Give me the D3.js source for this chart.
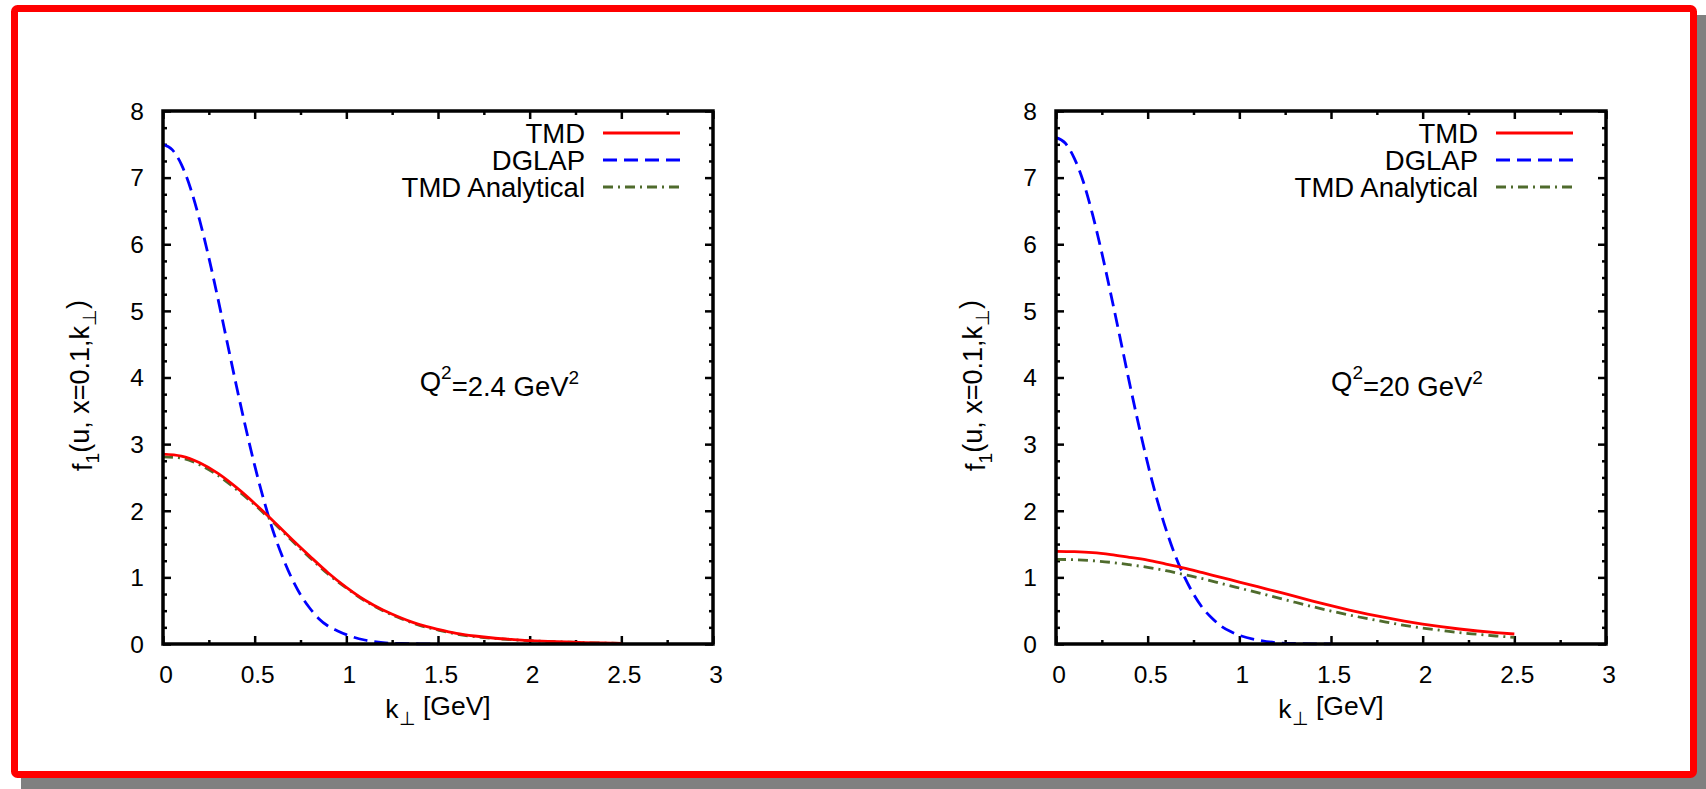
<!DOCTYPE html>
<html>
<head>
<meta charset="utf-8">
<script src="https://cdn.jsdelivr.net/npm/d3@7/dist/d3.min.js"></script>
<style>
  html, body { margin: 0; padding: 0; background: #ffffff; }
  svg { display: block; }
  text { font-family: "Liberation Sans", Arial, Helvetica, sans-serif; fill: #000; }
</style>
</head>
<body>
<svg id="fig" width="1706" height="789"></svg>
<script>
// transverse momentum grid (GeV) for the TMD curves
const kTMD = [0, 0.1, 0.2, 0.3, 0.4, 0.5, 0.6, 0.7, 0.8, 0.9, 1.0, 1.1, 1.2,
              1.3, 1.4, 1.5, 1.6, 1.7, 1.8, 1.9, 2.0, 2.1, 2.2, 2.3, 2.4, 2.5];
// finer grid for the steep DGLAP curves
const kDGLAP = [0, 0.05, 0.1, 0.15, 0.2, 0.25, 0.3, 0.35, 0.4, 0.45, 0.5, 0.55,
                0.6, 0.65, 0.7, 0.75, 0.8, 0.85, 0.9, 0.95, 1.0, 1.1, 1.2, 1.3, 1.4, 1.5];

// Q^2 = 2.4 GeV^2
const tmdLow = [2.85, 2.82, 2.72, 2.56, 2.35, 2.11, 1.85, 1.58, 1.32, 1.07, 0.85, 0.66, 0.51,
                0.39, 0.29, 0.22, 0.16, 0.12, 0.09, 0.07, 0.05, 0.04, 0.03, 0.02, 0.015, 0.01];
const dglapLow = [7.50, 7.42, 7.20, 6.84, 6.36, 5.80, 5.18, 4.53, 3.88, 3.26, 2.68, 2.16, 1.70,
                  1.32, 1.00, 0.74, 0.54, 0.38, 0.27, 0.20, 0.14, 0.06, 0.02, 0.008, 0.003, 0.001];
const analyticLow = [2.81, 2.79, 2.69, 2.53, 2.32, 2.09, 1.83, 1.56, 1.30, 1.05, 0.84, 0.65, 0.50,
                     0.38, 0.28, 0.21, 0.15, 0.11, 0.085, 0.065, 0.05, 0.038, 0.028, 0.02, 0.014, 0.01];

// Q^2 = 20 GeV^2
const tmdHigh = [1.39, 1.385, 1.37, 1.34, 1.30, 1.26, 1.20, 1.14, 1.07, 1.00, 0.93, 0.86, 0.79,
                 0.72, 0.645, 0.575, 0.51, 0.45, 0.395, 0.345, 0.30, 0.26, 0.225, 0.195, 0.17, 0.15];
const dglapHigh = [7.60, 7.52, 7.29, 6.93, 6.44, 5.87, 5.24, 4.59, 3.93, 3.30, 2.71, 2.18, 1.72,
                   1.33, 1.01, 0.75, 0.54, 0.39, 0.27, 0.19, 0.13, 0.06, 0.02, 0.008, 0.003, 0.001];
const analyticHigh = [1.27, 1.265, 1.25, 1.225, 1.19, 1.15, 1.10, 1.04, 0.98, 0.91, 0.84, 0.77, 0.70,
                      0.63, 0.56, 0.495, 0.435, 0.38, 0.33, 0.28, 0.24, 0.205, 0.17, 0.145, 0.12, 0.10];

const seriesNames = ["TMD", "DGLAP", "TMD Analytical"];
const xMajorTicks = [0, 0.5, 1, 1.5, 2, 2.5, 3];
const xMinorTicks = [0.25, 0.75, 1.25, 1.75, 2.25, 2.75];
const yMajorTicks = [0, 1, 2, 3, 4, 5, 6, 7, 8];
const yMinorTicks = d3.range(0, 8, 1).flatMap(v => [v + 0.25, v + 0.5, v + 0.75]);
const q2Labels = ["2.4", "20"];

const panels = [
  { q2: q2Labels[0], tmd: tmdLow, dglap: dglapLow, analytic: analyticLow, left: 163, right: 713, noteAt: [1.4, 3.95] },
  { q2: q2Labels[1], tmd: tmdHigh, dglap: dglapHigh, analytic: analyticHigh, left: 1056, right: 1606, noteAt: [1.5, 3.95] }
];

const styles = [
  { color: "#ff0000", dash: null },
  { color: "#0000ff", dash: "14,7" },
  { color: "#4f6b2c", dash: "10,5,2,5" }
];

const svg = d3.select("#fig");

// page frame: grey drop shadow and red border
svg.append("rect").attr("x", 21).attr("y", 15).attr("width", 1706).attr("height", 789)
  .attr("rx", 4).attr("fill", "#808080");
svg.append("rect").attr("x", 14.5).attr("y", 8.5).attr("width", 1679).attr("height", 766)
  .attr("rx", 3).attr("fill", "#ffffff").attr("stroke", "#ff0000").attr("stroke-width", 7);

const TOP = 111, BOTTOM = 644;
const tickFont = 24.5, labelFont = 27.5, subFont = 19;

panels.forEach(p => {
  const x = d3.scaleLinear().domain([0, 3]).range([p.left, p.right]);
  const y = d3.scaleLinear().domain([0, 8]).range([BOTTOM, TOP]);
  const g = svg.append("g");

  // inward ticks on all four sides
  const addAxis = (axis, tr) => {
    const a = g.append("g").attr("transform", tr).call(axis);
    a.select(".domain").remove();
    a.selectAll(".tick line").attr("stroke", "#000").attr("stroke-width", 2.5);
    a.selectAll(".tick text").remove();
    return a;
  };
  addAxis(d3.axisBottom(x).tickValues(xMajorTicks).tickSize(-8), `translate(0,${BOTTOM})`);
  addAxis(d3.axisBottom(x).tickValues(xMinorTicks).tickSize(-4), `translate(0,${BOTTOM})`);
  addAxis(d3.axisTop(x).tickValues(xMajorTicks).tickSize(-8), `translate(0,${TOP})`);
  addAxis(d3.axisTop(x).tickValues(xMinorTicks).tickSize(-4), `translate(0,${TOP})`);
  addAxis(d3.axisLeft(y).tickValues(yMajorTicks).tickSize(-8), `translate(${p.left},0)`);
  addAxis(d3.axisLeft(y).tickValues(yMinorTicks).tickSize(-4), `translate(${p.left},0)`);
  addAxis(d3.axisRight(y).tickValues(yMajorTicks).tickSize(-8), `translate(${p.right},0)`);
  addAxis(d3.axisRight(y).tickValues(yMinorTicks).tickSize(-4), `translate(${p.right},0)`);

  // tick labels
  g.selectAll(".xlab").data(xMajorTicks).join("text")
    .attr("x", d => x(d) + 3).attr("y", BOTTOM + 39)
    .attr("text-anchor", "middle").attr("font-size", tickFont)
    .text(d => String(d));
  g.selectAll(".ylab").data(yMajorTicks).join("text")
    .attr("x", p.left - 19).attr("y", d => y(d))
    .attr("dy", "0.36em")
    .attr("text-anchor", "end").attr("font-size", tickFont)
    .text(d => String(d));

  // curves
  const line = d3.line().x(d => x(d[0])).y(d => y(d[1])).curve(d3.curveMonotoneX);
  const curves = [
    d3.zip(kTMD, p.tmd),
    d3.zip(kDGLAP, p.dglap),
    d3.zip(kTMD, p.analytic)
  ];
  [2, 1, 0].forEach(i => {
    g.append("path").attr("d", line(curves[i]))
      .attr("fill", "none").attr("stroke", styles[i].color)
      .attr("stroke-width", 2.8)
      .attr("stroke-dasharray", styles[i].dash);
  });

  // frame
  g.append("rect").attr("x", p.left).attr("y", TOP)
    .attr("width", p.right - p.left).attr("height", BOTTOM - TOP)
    .attr("fill", "none").attr("stroke", "#000").attr("stroke-width", 3.5);

  // legend
  seriesNames.forEach((name, i) => {
    const ly = 133 + i * 27;
    g.append("text").attr("x", p.right - 128).attr("y", ly).attr("dy", "0.36em")
      .attr("text-anchor", "end").attr("font-size", labelFont).text(name);
    g.append("line").attr("x1", p.right - 110).attr("x2", p.right - 33)
      .attr("y1", ly).attr("y2", ly)
      .attr("stroke", styles[i].color).attr("stroke-width", 2.8)
      .attr("stroke-dasharray", styles[i].dash);
  });

  // Q^2 note
  const note = g.append("text")
    .attr("x", x(p.noteAt[0])).attr("y", y(p.noteAt[1])).attr("dy", "0.36em")
    .attr("font-size", labelFont);
  note.append("tspan").text("Q");
  note.append("tspan").attr("font-size", subFont).attr("dy", "-0.6em").text("2");
  note.append("tspan").attr("dy", "0.6em").attr("font-size", labelFont).text("=" + p.q2 + " GeV");
  note.append("tspan").attr("font-size", subFont).attr("dy", "-0.6em").text("2");

  // x axis title
  const xt = g.append("text")
    .attr("x", (p.left + p.right) / 2).attr("y", 718)
    .attr("text-anchor", "middle").attr("font-size", 26.5);
  xt.append("tspan").text("k");
  xt.append("tspan").attr("font-size", subFont).attr("dy", "0.35em").text("\u22A5");
  xt.append("tspan").attr("dy", "-0.35em").attr("font-size", 26.5).text(" [GeV]");

  // y axis title
  const yt = g.append("text")
    .attr("transform", `translate(${p.left - 71},${(TOP + BOTTOM) / 2 + 8}) rotate(-90)`)
    .attr("text-anchor", "middle").attr("font-size", 27);
  yt.append("tspan").text("f");
  yt.append("tspan").attr("font-size", subFont).attr("dy", "0.35em").text("1");
  yt.append("tspan").attr("dy", "-0.35em").attr("font-size", 27).text("(u, x=0.1,k");
  yt.append("tspan").attr("font-size", subFont).attr("dy", "0.35em").text("\u22A5");
  yt.append("tspan").attr("dy", "-0.35em").attr("font-size", 27).text(")");
});
</script>
</body>
</html>
